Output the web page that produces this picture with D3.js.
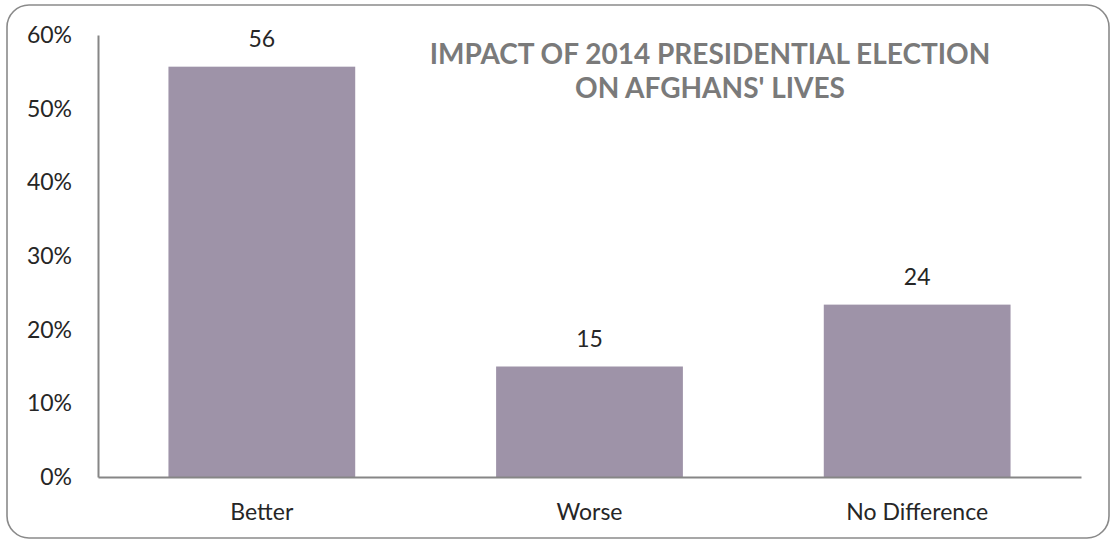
<!DOCTYPE html>
<html><head><meta charset="utf-8">
<script src="https://cdn.jsdelivr.net/npm/d3@7"></script>
<style>body{margin:0;background:#fff}svg{display:block}</style>
</head><body>
<script>
const categories = ["Better", "Worse", "No Difference"];
const values = [55.7, 15.0, 23.4];
const valueLabels = ["56", "15", "24"];
const yTicks = [0, 10, 20, 30, 40, 50, 60];
const titleLines = ["IMPACT OF 2014 PRESIDENTIAL ELECTION", "ON AFGHANS' LIVES"];

const W = 1113, H = 543;
const m = {left: 98, right: 32, top: 35, bottom: 66};
const svg = d3.select("body").append("svg").attr("width", W).attr("height", H);
const font = "Lato, 'Open Sans', sans-serif";

svg.append("rect").attr("x", 7).attr("y", 5).attr("width", 1102).attr("height", 533)
  .attr("rx", 22).attr("ry", 22).attr("fill", "#fff").attr("stroke", "#8a8a8a").attr("stroke-width", 1.6);

const x = d3.scaleBand().domain(categories).range([m.left, W - m.right]).paddingInner(0.43).paddingOuter(0.215);
const y = d3.scaleLinear().domain([0, 60]).range([H - m.bottom, m.top]);

svg.selectAll("rect.bar").data(values).join("rect").attr("class", "bar")
  .attr("x", (d, i) => x(categories[i])).attr("width", x.bandwidth())
  .attr("y", d => y(d)).attr("height", d => y(0) - y(d)).attr("fill", "#9e93a8");

const yAxis = svg.append("g").attr("transform", `translate(${m.left},0)`)
  .call(d3.axisLeft(y).tickValues(yTicks).tickSize(0).tickPadding(26).tickFormat(d => d + "%"));
yAxis.select(".domain").attr("stroke", "#868686").attr("stroke-width", 2);
yAxis.selectAll("text").attr("font-family", font).attr("font-size", 23).attr("fill", "#262626");

const xAxis = svg.append("g").attr("transform", `translate(0,${y(0)})`)
  .call(d3.axisBottom(x).tickSize(0).tickPadding(27));
xAxis.select(".domain").attr("stroke", "#868686").attr("stroke-width", 2);
xAxis.selectAll("text").attr("font-family", font).attr("font-size", 23).attr("fill", "#262626");

svg.selectAll("text.vl").data(values).join("text").attr("class", "vl")
  .attr("x", (d, i) => x(categories[i]) + x.bandwidth() / 2).attr("y", d => y(d) - 20)
  .attr("text-anchor", "middle").attr("font-family", font).attr("font-size", 23).attr("fill", "#262626")
  .text((d, i) => valueLabels[i]);

svg.selectAll("text.title").data(titleLines).join("text").attr("class", "title")
  .attr("x", 710).attr("y", (d, i) => 64 + i * 34)
  .attr("text-anchor", "middle").attr("font-family", font).attr("font-weight", "bold")
  .attr("font-size", 28).attr("fill", "#7a7a7a").text(d => d);
</script>
</body></html>
